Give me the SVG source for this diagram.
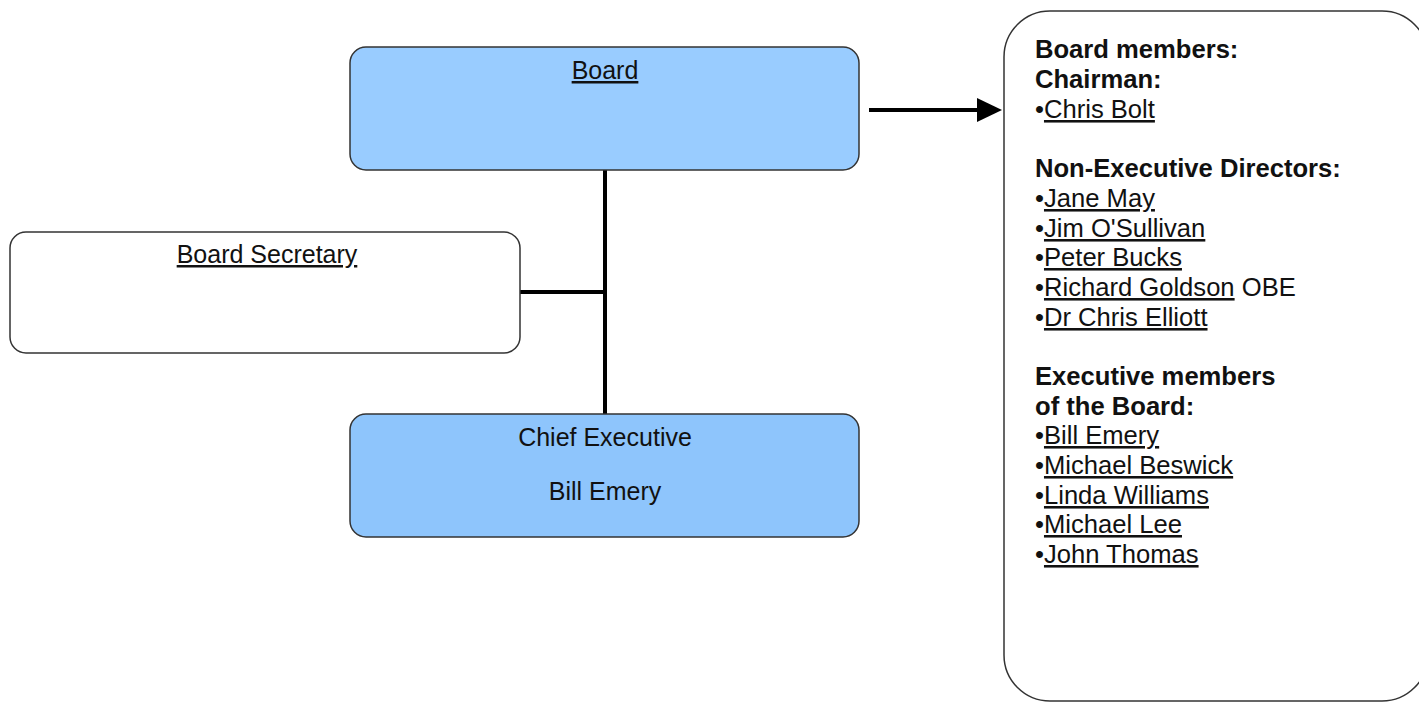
<svg xmlns="http://www.w3.org/2000/svg" width="1419" height="702" viewBox="0 0 1419 702">
<style>
.box{stroke:#333;stroke-width:1.5}
.t{font-family:"Liberation Sans",Arial,sans-serif;font-size:25px;fill:#111}
.r{font-size:25.6px}
.b{font-weight:bold}
.u{text-decoration:underline}
.c{text-anchor:middle}
.conn{stroke:#000;stroke-width:4;fill:none}
</style>
<defs>
<marker id="arr" markerWidth="6.25" markerHeight="6" refX="0" refY="3" orient="auto" markerUnits="strokeWidth">
<path d="M0,0 L6.25,3 L0,6 Z" fill="#000"/>
</marker>
</defs>
<rect width="1419" height="702" fill="#fff"/>
<g id="connectors">
<line class="conn" x1="605" y1="170" x2="605" y2="414"/>
<line class="conn" x1="520" y1="292" x2="605" y2="292"/>
<line class="conn" x1="869" y1="110" x2="977" y2="110" marker-end="url(#arr)"/>
</g>
<g id="board">
<rect class="box" x="350" y="47" width="509" height="123" rx="16" fill="#99CCFF"/>
<text class="t c u" x="605" y="79">Board</text>
</g>
<g id="board-secretary">
<rect class="box" x="10" y="232" width="510" height="121" rx="16" fill="#fff"/>
<text class="t c u" x="267" y="263">Board Secretary</text>
</g>
<g id="chief-executive">
<rect class="box" x="350" y="414" width="509" height="123" rx="16" fill="#8EC5FC"/>
<text class="t c" x="605" y="446">Chief Executive</text>
<text class="t c" x="605" y="500">Bill Emery</text>
</g>
<g id="board-members">
<rect class="box" x="1004" y="11" width="424" height="690" rx="46" fill="#fff"/>
<text class="t r b" x="1035" y="58">Board members:</text>
<text class="t r b" x="1035" y="88">Chairman:</text>
<text class="t r" x="1035" y="118">•<tspan class="u">Chris Bolt</tspan></text>
<text class="t r b" x="1035" y="177">Non-Executive Directors:</text>
<text class="t r" x="1035" y="207">•<tspan class="u">Jane May</tspan></text>
<text class="t r" x="1035" y="237">•<tspan class="u">Jim O'Sullivan</tspan></text>
<text class="t r" x="1035" y="266">•<tspan class="u">Peter Bucks</tspan></text>
<text class="t r" x="1035" y="296">•<tspan class="u">Richard Goldson</tspan> OBE</text>
<text class="t r" x="1035" y="326">•<tspan class="u">Dr Chris Elliott</tspan></text>
<text class="t r b" x="1035" y="385">Executive members</text>
<text class="t r b" x="1035" y="415">of the Board:</text>
<text class="t r" x="1035" y="444">•<tspan class="u">Bill Emery</tspan></text>
<text class="t r" x="1035" y="474">•<tspan class="u">Michael Beswick</tspan></text>
<text class="t r" x="1035" y="504">•<tspan class="u">Linda Williams</tspan></text>
<text class="t r" x="1035" y="533">•<tspan class="u">Michael Lee</tspan></text>
<text class="t r" x="1035" y="563">•<tspan class="u">John Thomas</tspan></text>
</g>
</svg>
